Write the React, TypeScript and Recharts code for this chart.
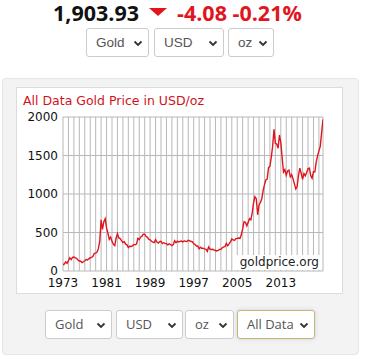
import React from 'react';
import { LineChart, Line, XAxis, YAxis, CartesianGrid, ReferenceLine } from 'recharts';

// quarterly gold price (USD/oz), first value Jan 1973
const START_YEAR = 1973;
const END_YEAR = 2020.75;
const prices = [
  78, 92, 118, 100,
  135, 172, 148, 178,
  182, 170, 165, 142,
  130, 127, 110, 120,
  133, 149, 143, 158,
  172, 176, 192, 228,
  233, 245, 290, 392,
  665, 540, 640, 680,
  560, 490, 410, 440,
  385, 345, 330, 425,
  485, 430, 422, 395,
  370, 380, 348, 340,
  305, 322, 318, 326,
  345, 340, 350, 425,
  408, 440, 452, 478,
  478, 450, 437, 412,
  405, 386, 374, 368,
  408, 375, 362, 382,
  385, 357, 367, 358,
  354, 339, 352, 344,
  330, 342, 392, 367,
  387, 376, 385, 389,
  379, 391, 386, 383,
  400, 393, 383, 381,
  355, 344, 324, 325,
  289, 308, 293, 296,
  287, 282, 256, 312,
  284, 280, 282, 270,
  266, 261, 268, 279,
  282, 302, 314, 317,
  357, 328, 351, 379,
  414, 403, 398, 420,
  424, 429, 424, 470,
  550, 640, 633, 586,
  631, 679, 665, 754,
  889, 965, 939, 730,
  858, 890, 934, 1043,
  1118, 1182, 1193, 1342,
  1360, 1475, 1620, 1840,
  1656, 1650, 1594, 1766,
  1670, 1470, 1286, 1316,
  1244, 1299, 1311, 1222,
  1251, 1197, 1131, 1065,
  1097, 1242, 1337, 1266,
  1192, 1266, 1236, 1280,
  1331, 1335, 1238, 1205,
  1291, 1286, 1413, 1495,
  1560, 1620, 1800, 1970,
];

const xTicks = [1973, 1981, 1989, 1997, 2005, 2013];
const yTicks = [0, 500, 1000, 1500, 2000];
const yearLines = Array.from({ length: 48 }, (_, i) => START_YEAR + i);

const chartData = prices.map((p, i) => ({ year: START_YEAR + i / 4, price: p }));

const RED = '#e0161e';
const tickFont = { fill: '#111', fontSize: 12, fontFamily: "'DejaVu Sans', Verdana, sans-serif" };

function Chevron() {
  return (
    <svg width="10" height="7" viewBox="0 0 10 7"
      style={{ position: 'absolute', right: 5, top: '50%', marginTop: -3 }}>
      <polyline points="1.5,1.5 5,5 8.5,1.5" fill="none" stroke="#333" strokeWidth="1.8" />
    </svg>
  );
}

function Select({ label, left, top, width, font, size, border = '#ccc', shadow = false }: any) {
  return (
    <div style={{
      position: 'absolute', left, top, width, height: 29, boxSizing: 'border-box',
      border: `1px solid ${border}`, borderRadius: 3, background: '#fff',
      boxShadow: shadow ? '0 0 4px rgba(120,150,200,0.35)' : 'none',
    }}>
      <span style={{
        position: 'absolute', left: 9, top: 0, lineHeight: '27px',
        fontFamily: font, fontSize: size, color: '#555',
      }}>{label}</span>
      <Chevron />
    </div>
  );
}

export default function App() {
  const hdr = { position: 'absolute' as const, top: 1, lineHeight: '24px', fontFamily: "'Open Sans', sans-serif", fontWeight: 700, fontSize: 21.5 };
  const arial = "'Liberation Sans', Arial, sans-serif";
  const open = "'Open Sans', sans-serif";
  return (
    <div style={{ position: 'absolute', left: 0, top: 0, width: 370, height: 364, background: '#fff', overflow: 'hidden' }}>
      <div style={{ ...hdr, left: 53, color: '#111' }}>1,903.93</div>
      <div style={{
        position: 'absolute', left: 149, top: 8, width: 0, height: 0,
        borderLeft: '9px solid transparent', borderRight: '9px solid transparent', borderTop: `8px solid ${RED}`,
      }} />
      <div style={{ ...hdr, left: 177, color: RED }}>-4.08 -0.21%</div>

      <Select label="Gold" left={86} top={28} width={63} font={arial} size={13.5} />
      <Select label="USD" left={154} top={28} width={70} font={arial} size={13.5} />
      <Select label="oz" left={228} top={28} width={46} font={arial} size={13.5} />

      {/* grey panel */}
      <div style={{
        position: 'absolute', left: 2, top: 78, width: 357, height: 277, boxSizing: 'border-box',
        background: '#f3f3f3', border: '1px solid #e6e6e6', borderRadius: 4,
      }} />

      {/* white chart box */}
      <div style={{
        position: 'absolute', left: 16, top: 87, width: 327, height: 207, boxSizing: 'border-box',
        background: '#fff', border: '1px solid #dcdcdc',
      }}>
        <div style={{
          position: 'absolute', left: 6, top: 5, lineHeight: '15px', whiteSpace: 'nowrap',
          fontFamily: "'DejaVu Sans', Verdana, sans-serif", fontSize: 12.5, color: '#d0121b',
        }}>All Data Gold Price in USD/oz</div>
      </div>
      <div style={{ position: 'absolute', left: 16, top: 87 }}>
        <LineChart width={327} height={207} data={chartData}
          margin={{ top: 30, right: 20, left: 0, bottom: 0 }}>
          <CartesianGrid stroke="#b8b8b8" strokeWidth={1}
            verticalValues={yearLines} horizontalValues={yTicks} />
          <ReferenceLine x={END_YEAR} stroke="#b8b8b8" />
          <XAxis dataKey="year" type="number" domain={[START_YEAR, END_YEAR]} ticks={xTicks}
            interval={0} axisLine={false} tickLine={false} tickSize={0} tickMargin={7}
            height={23} tick={tickFont} allowDataOverflow />
          <YAxis domain={[0, 2000]} ticks={yTicks} interval={0} axisLine={false} tickLine={false}
            tickSize={0} tickMargin={5} width={47} tick={tickFont} />
          <Line type="linear" dataKey="price" stroke={RED} strokeWidth={1.4} dot={false}
            isAnimationActive={false} />
        </LineChart>
      </div>
      <div style={{
        position: 'absolute', left: 236, top: 255, width: 85, height: 15, boxSizing: 'border-box',
        paddingRight: 2, textAlign: 'right', lineHeight: '15px', background: '#fff',
        fontFamily: "'DejaVu Sans', Verdana, sans-serif", fontSize: 12, color: '#222',
      }}>goldprice.org</div>

      <Select label="Gold" left={45} top={310} width={67} font={open} size={13} />
      <Select label="USD" left={116} top={310} width={67} font={open} size={13} />
      <Select label="oz" left={185} top={310} width={49} font={open} size={13} />
      <Select label="All Data" left={237} top={310} width={78} font={open} size={13} border="#c9b470" shadow />
    </div>
  );
}
